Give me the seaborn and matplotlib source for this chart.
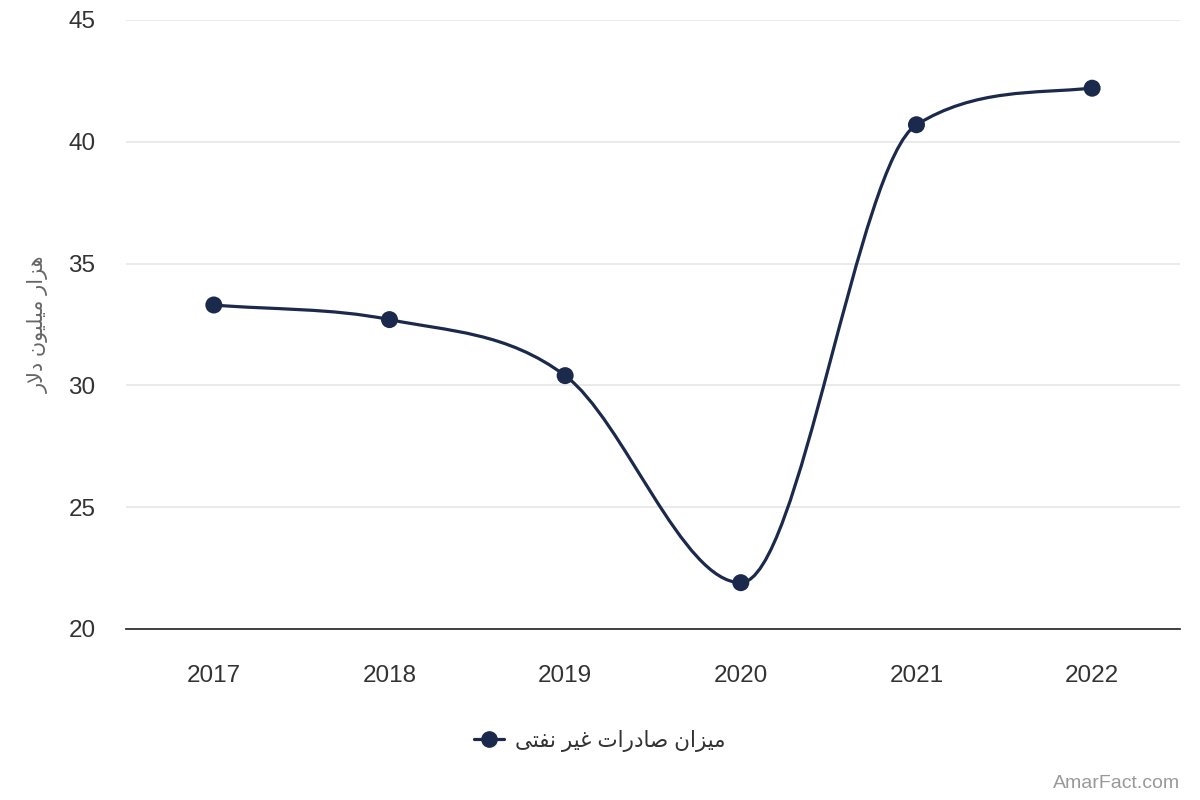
import numpy as np
import matplotlib
matplotlib.use("Agg")
import matplotlib.pyplot as plt
import seaborn as sns
from matplotlib.path import Path
from matplotlib.patches import PathPatch
from matplotlib.lines import Line2D

# data
years = [2017, 2018, 2019, 2020, 2021, 2022]
exports = [33.3, 32.7, 30.4, 21.9, 40.7, 42.2]
y_ticks = [20, 25, 30, 35, 40, 45]
series_name = "میزان صادرات غیر نفتی"
y_label = "هزار میلیون دلار"
credit = "AmarFact.com"

LINE_COLOR = "#1b2a4c"

# contextual forms for the letters we need (iso, fin, ini, med)
FORMS = {
    "ا": ("\uFE8D", "\uFE8E", None, None),
    "د": ("\uFEA9", "\uFEAA", None, None),
    "ر": ("\uFEAD", "\uFEAE", None, None),
    "ز": ("\uFEAF", "\uFEB0", None, None),
    "و": ("\uFEED", "\uFEEE", None, None),
    "ه": ("\uFEE9", "\uFEEA", "\uFEEB", "\uFEEC"),
    "م": ("\uFEE1", "\uFEE2", "\uFEE3", "\uFEE4"),
    "ل": ("\uFEDD", "\uFEDE", "\uFEDF", "\uFEE0"),
    "ن": ("\uFEE5", "\uFEE6", "\uFEE7", "\uFEE8"),
    "ص": ("\uFEB9", "\uFEBA", "\uFEBB", "\uFEBC"),
    "ت": ("\uFE95", "\uFE96", "\uFE97", "\uFE98"),
    "غ": ("\uFECD", "\uFECE", "\uFECF", "\uFED0"),
    "ف": ("\uFED1", "\uFED2", "\uFED3", "\uFED4"),
    "ی": ("\uFBFC", "\uFBFD", "\uFBFE", "\uFBFF"),
}


def shape_rtl(text):
    """Very small Persian shaper: pick joined forms, then reverse for display."""
    chars = list(text)
    out = []
    i = 0
    while i < len(chars):
        c = chars[i]
        prev = chars[i - 1] if i > 0 else None
        prev_joins = prev in FORMS and FORMS[prev][2] is not None
        if c not in FORMS:
            out.append(c)
            i += 1
            continue
        # lam + alef ligature
        if c == "ل" and i + 1 < len(chars) and chars[i + 1] == "ا":
            out.append("\uFEFC" if prev_joins else "\uFEFB")
            i += 2
            continue
        nxt = chars[i + 1] if i + 1 < len(chars) else None
        next_joins = nxt in FORMS
        iso, fin, ini, med = FORMS[c]
        if prev_joins and next_joins and med:
            out.append(med)
        elif prev_joins:
            out.append(fin)
        elif next_joins and ini:
            out.append(ini)
        else:
            out.append(iso)
        i += 1
    return "".join(out)[::-1]


def monotone_path(xs, ys):
    """Monotone cubic (Fritsch-Carlson) curve as bezier segments."""
    x = np.asarray(xs, dtype=float)
    y = np.asarray(ys, dtype=float)
    n = len(x)
    dx = np.diff(x)
    delta = np.diff(y) / dx
    m = np.zeros(n)
    m[0] = delta[0]
    m[-1] = delta[-1]
    for i in range(1, n - 1):
        if delta[i - 1] * delta[i] > 0:
            m[i] = (delta[i - 1] + delta[i]) / 2
    for i in range(n - 1):
        if delta[i] == 0:
            m[i] = m[i + 1] = 0
            continue
        a = m[i] / delta[i]
        b = m[i + 1] / delta[i]
        sq = a * a + b * b
        if sq > 9:
            tau = 3 / np.sqrt(sq)
            m[i] = tau * a * delta[i]
            m[i + 1] = tau * b * delta[i]
    verts = [(x[0], y[0])]
    codes = [Path.MOVETO]
    for i in range(n - 1):
        h = dx[i] / 3
        verts += [(x[i] + h, y[i] + m[i] * h),
                  (x[i + 1] - h, y[i + 1] - m[i + 1] * h),
                  (x[i + 1], y[i + 1])]
        codes += [Path.CURVE4] * 3
    return Path(verts, codes)


sns.set_theme(style="white")
plt.rcParams["font.family"] = ["Liberation Sans", "DejaVu Sans"]

fig, ax = plt.subplots(figsize=(12, 8), dpi=100)
fig.subplots_adjust(left=0.105, right=0.9833, bottom=0.2138, top=0.975)

ax.set_xlim(years[0] - 0.5, years[-1] + 0.5)
ax.set_ylim(y_ticks[0], y_ticks[-1])

curve = PathPatch(monotone_path(years, exports), facecolor="none",
                  edgecolor=LINE_COLOR, lw=2.3, capstyle="round", zorder=3)
ax.add_patch(curve)
sns.scatterplot(x=years, y=exports, ax=ax, color=LINE_COLOR, s=150,
                edgecolor="none", zorder=4, legend=False, clip_on=False)

ax.set_yticks(y_ticks)
ax.set_xticks(years)
ax.set_xticklabels([str(y) for y in years])
ax.tick_params(axis="both", length=0, labelsize=17.5, colors="#333333")
ax.tick_params(axis="x", pad=26)
ax.tick_params(axis="y", pad=22)
ax.grid(axis="y", color="#e6e6e6", lw=1.2)
ax.grid(axis="x", visible=False)
for side in ["top", "right", "left"]:
    ax.spines[side].set_visible(False)
ax.spines["bottom"].set_color("#333333")
ax.spines["bottom"].set_linewidth(1.3)
ax.set_axisbelow(True)

ax.set_ylabel(shape_rtl(y_label), fontsize=15, color="#666666", labelpad=14)
ax.set_xlabel("")

handle = Line2D([], [], color=LINE_COLOR, lw=2.3, marker="o", markersize=11)
leg = fig.legend([handle], [shape_rtl(series_name)], loc="center",
                 bbox_to_anchor=(0.5, 1 - 741 / 800), frameon=False,
                 fontsize=15.5, handlelength=1.4, handletextpad=0.5)
for t in leg.get_texts():
    t.set_color("#333333")

fig.text(0.983, 1 - 784 / 800, credit, ha="right", va="center",
         fontsize=14, color="#999999")

fig.savefig("out.png", dpi=100)
